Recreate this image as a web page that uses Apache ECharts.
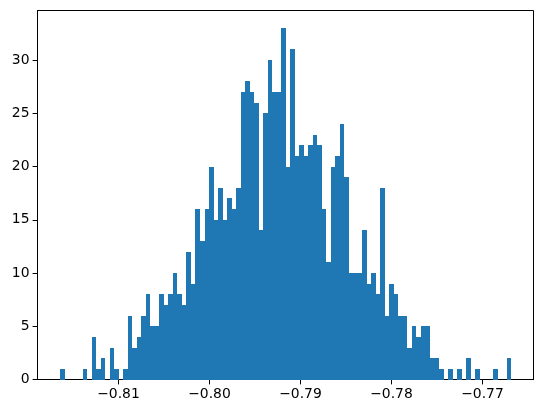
<!DOCTYPE html>
<html>
<head>
<meta charset="utf-8">
<script src="https://cdn.jsdelivr.net/npm/echarts@6/dist/echarts.min.js"></script>
<style>
html,body{margin:0;padding:0;background:#fff;}
#chart{width:543px;height:413px;}
</style>
</head>
<body>
<div id="chart"></div>
<script>
// Histogram data: 100 bins
const binStart = -0.816407;
const binWidth = 0.0004956;
const counts = [
  1,0,0,0,0,1,0,4,1,2,
  0,3,1,0,1,6,3,4,6,8,
  5,5,8,7,8,10,8,7,12,9,
  16,13,16,20,15,18,15,17,16,18,
  27,28,27,26,14,25,30,27,27,33,
  20,31,21,22,21,22,23,22,16,11,
  20,21,24,19,10,10,10,14,9,10,
  8,18,6,9,8,6,6,3,5,4,
  5,5,2,2,1,0,1,0,1,0,
  2,0,1,0,0,0,1,0,0,2
];
const xTicks = [-0.81, -0.80, -0.79, -0.78, -0.77];
const yTicks = [0, 5, 10, 15, 20, 25, 30];
const xMin = -0.818901, xMax = -0.764395;
const yMax = 34.65;

const bins = counts.map((c, i) => [binStart + i * binWidth, binStart + (i + 1) * binWidth, c]);

const chart = echarts.init(document.getElementById('chart'), null, {renderer: 'canvas'});
const font = 'DejaVu Sans';
chart.setOption({
  animation: false,
  backgroundColor: '#fff',
  grid: {
    left: 37.5, top: 10.5, width: 496, height: 369,
    show: true, borderColor: '#000', borderWidth: 1, backgroundColor: 'transparent'
  },
  xAxis: {
    type: 'value', min: xMin, max: xMax,
    splitLine: {show: false},
    axisLine: {show: true, onZero: false, lineStyle: {color: '#000', width: 1}},
    axisTick: {show: true, length: 4.9, lineStyle: {color: '#000', width: 1}, customValues: xTicks},
    axisLabel: {
      color: '#000', fontFamily: font, fontSize: 13.9, margin: 8,
      customValues: xTicks,
      formatter: v => (v < 0 ? '\u2212' : '') + Math.abs(v).toFixed(2)
    }
  },
  yAxis: {
    type: 'value', min: 0, max: yMax,
    splitLine: {show: false},
    axisLine: {show: true, lineStyle: {color: '#000', width: 1}},
    axisTick: {show: true, length: 4.9, lineStyle: {color: '#000', width: 1}, customValues: yTicks},
    axisLabel: {
      color: '#000', fontFamily: font, fontSize: 13.9, margin: 8,
      customValues: yTicks,
      formatter: v => String(v)
    }
  },
  series: [{
    type: 'custom',
    data: bins,
    encode: {x: [0, 1], y: 2},
    renderItem: function (params, api) {
      const p0 = api.coord([api.value(0), 0]);
      const p1 = api.coord([api.value(1), api.value(2)]);
      const x0 = Math.round(p0[0]), x1 = Math.round(p1[0]);
      const yb = Math.round(p0[1]), yt = Math.round(p1[1]);
      return {
        type: 'rect',
        shape: {x: x0, y: yt, width: x1 - x0, height: yb - yt},
        style: {fill: '#1f77b4'}
      };
    }
  }]
});
</script>
</body>
</html>
